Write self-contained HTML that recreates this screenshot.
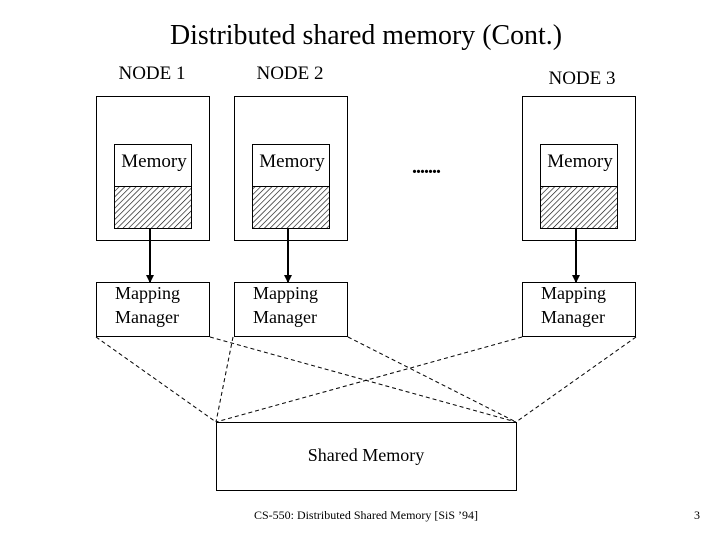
<!DOCTYPE html>
<html><head><style>
html,body{margin:0;padding:0;background:#fff;}
svg{display:block;}
text{font-family:"Liberation Serif",serif;fill:#000;}
</style></head><body>
<svg width="720" height="540" viewBox="0 0 720 540" xmlns="http://www.w3.org/2000/svg">
<defs>
<pattern id="h" width="4" height="4" patternUnits="userSpaceOnUse" patternTransform="rotate(45)">
<rect width="4" height="4" fill="#fff"/><line x1="0" y1="0" x2="0" y2="4" stroke="#000" stroke-width="1.2"/>
</pattern>
<marker id="a" markerWidth="8" markerHeight="8" refX="7" refY="4" orient="auto" markerUnits="userSpaceOnUse">
<path d="M0,0 L8,4 L0,8 z" fill="#000"/></marker>
</defs>
<text x="366" y="44" font-size="28" text-anchor="middle" textLength="392" lengthAdjust="spacingAndGlyphs">Distributed shared memory (Cont.)</text>
<text x="152" y="79" font-size="19" text-anchor="middle">NODE 1</text>
<text x="290" y="79" font-size="19" text-anchor="middle">NODE 2</text>
<text x="582" y="84" font-size="19" text-anchor="middle">NODE 3</text>
<g fill="none" stroke="#000" stroke-width="1">
<rect x="96.5" y="96.5" width="113" height="144"/>
<rect x="234.5" y="96.5" width="113" height="144"/>
<rect x="522.5" y="96.5" width="113" height="144"/>
</g>
<g stroke="#000" stroke-width="1">
<rect x="114.5" y="144.5" width="77" height="84" fill="#fff"/>
<rect x="114.5" y="186.5" width="77" height="42" fill="url(#h)"/>
<rect x="252.5" y="144.5" width="77" height="84" fill="#fff"/>
<rect x="252.5" y="186.5" width="77" height="42" fill="url(#h)"/>
<rect x="540.5" y="144.5" width="77" height="84" fill="#fff"/>
<rect x="540.5" y="186.5" width="77" height="42" fill="url(#h)"/>
</g>
<text x="154" y="167" font-size="19" text-anchor="middle">Memory</text>
<text x="292" y="167" font-size="19" text-anchor="middle">Memory</text>
<text x="580" y="167" font-size="19" text-anchor="middle">Memory</text>
<text x="426" y="173" font-size="20" text-anchor="middle" font-weight="bold" letter-spacing="-1">.......</text>
<g stroke="#000" stroke-width="2" marker-end="url(#a)">
<line x1="150" y1="229" x2="150" y2="282"/>
<line x1="288" y1="229" x2="288" y2="282"/>
<line x1="576" y1="229" x2="576" y2="282"/>
</g>
<g fill="none" stroke="#000" stroke-width="1">
<rect x="96.5" y="282.5" width="113" height="54"/>
<rect x="234.5" y="282.5" width="113" height="54"/>
<rect x="522.5" y="282.5" width="113" height="54"/>
<rect x="216.5" y="422.5" width="300" height="68"/>
</g>
<g font-size="18">
<text x="115" y="299">Mapping</text><text x="115" y="323">Manager</text>
<text x="253" y="299">Mapping</text><text x="253" y="323">Manager</text>
<text x="541" y="299">Mapping</text><text x="541" y="323">Manager</text>
</g>
<text x="366" y="461" font-size="18" text-anchor="middle">Shared Memory</text>
<g stroke="#000" stroke-width="1" stroke-dasharray="4,3">
<line x1="96" y1="337" x2="216" y2="422"/>
<line x1="210" y1="337" x2="516" y2="422"/>
<line x1="233" y1="337" x2="216" y2="422"/>
<line x1="348" y1="337" x2="516" y2="422"/>
<line x1="522" y1="337" x2="216" y2="422"/>
<line x1="636" y1="337" x2="516" y2="422"/>
</g>
<text x="254" y="519" font-size="12" textLength="224" lengthAdjust="spacingAndGlyphs">CS-550: Distributed Shared Memory [SiS ’94]</text>
<text x="694" y="519" font-size="12">3</text>
</svg>
</body></html>
